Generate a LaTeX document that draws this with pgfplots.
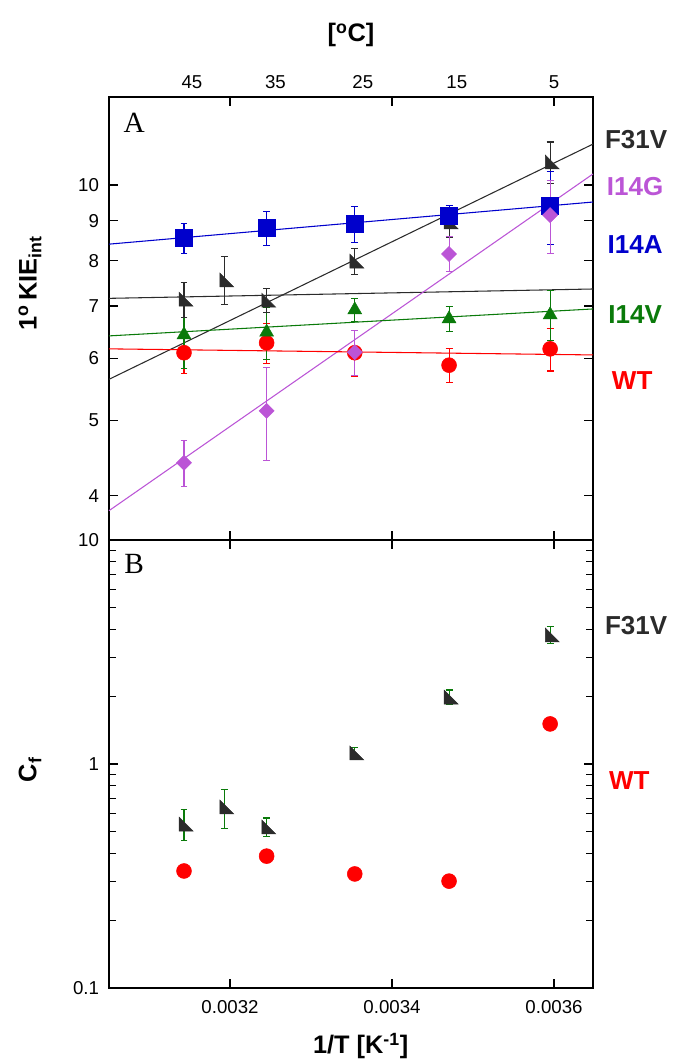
\documentclass[border=0pt]{standalone}
\usepackage{fontspec}
\setmainfont{Liberation Sans}
\newfontfamily\serifA{Liberation Serif}
\usepackage{pgfplots}
\pgfplotsset{compat=1.18}

\definecolor{cF}{HTML}{2B2B2B}
\definecolor{cG}{HTML}{BB55D6}
\definecolor{cA}{HTML}{0000CC}
\definecolor{cV}{HTML}{0A7A0A}
\definecolor{cW}{HTML}{FF0000}

\pgfdeclareplotmark{ltri}{%
  \pgfpathmoveto{\pgfqpoint{-0.7\pgfplotmarksize}{\pgfplotmarksize}}%
  \pgfpathlineto{\pgfqpoint{-0.7\pgfplotmarksize}{-\pgfplotmarksize}}%
  \pgfpathlineto{\pgfqpoint{1.3\pgfplotmarksize}{-\pgfplotmarksize}}%
  \pgfpathclose\pgfusepathqfillstroke}

\begin{document}
\begin{tikzpicture}
%% ---------------- Panel A ----------------
\begin{axis}[scale only axis, width=363pt, height=332.25pt, at={(0,336pt)}, anchor=south west,
  xmin=0.0030506, xmax=0.0036481,
  ymode=log, clip=false,
  axis line style={line width=1.1pt},
  major tick length=7pt, minor tick length=5pt,
  tick style={line width=0.9pt, black},
  tick align=inside,
  ticklabel style={font=\fontsize{14}{16}\selectfont},
  yticklabel style={xshift=-4pt},
  xtick={0.0032,0.0034,0.0036}, scaled x ticks=false,
  label style={font=\bfseries\fontsize{19}{22}\selectfont},
  ymin=3.513, ymax=12.96,
  ytick={4,5,6,7,8,9,10}, yticklabels={4,5,6,7,8,9,10},
  xticklabels={,,},
  ylabel={1\textsuperscript{o}\,KIE\textsubscript{int}},
  ylabel style={at={(rel axis cs:-0.163,0.58)}, anchor=center},
]
% fit lines
\addplot[no marks, line width=0.8pt, color=cF] coordinates {(0.0030506,5.64) (0.0036481,11.28)};
\addplot[no marks, line width=0.8pt, color=cF] coordinates {(0.0030506,7.16) (0.0036481,7.36)};
\addplot[no marks, line width=0.8pt, color=cG] coordinates {(0.0030506,3.83) (0.0036481,10.33)};
\addplot[no marks, line width=0.8pt, color=cA] coordinates {(0.0030506,8.40) (0.0036481,9.51)};
\addplot[no marks, line width=0.8pt, color=cV] coordinates {(0.0030506,6.41) (0.0036481,6.94)};
\addplot[no marks, line width=0.8pt, color=cW] coordinates {(0.0030506,6.17) (0.0036481,6.06)};
% WT
\addplot[only marks, mark=*, mark size=5.6pt, color=cW,
  error bars/.cd, y dir=both, y explicit, error mark=-,
  error mark options={rotate=90, mark size=2.6pt, line width=0.8pt, cW},
  error bar style={line width=0.8pt, cW}] coordinates {
 (0.0031432,6.10) +- (0,0.37)
 (0.0032452,6.28) +- (0,0.37)
 (0.0033540,6.10) +- (0,0.42)
 (0.0034704,5.88) +- (0,0.29)
 (0.0035952,6.17) +- (0,0.39)};
% I14V
\addplot[only marks, mark=triangle*, mark size=6pt, color=cV,
  error bars/.cd, y dir=both, y explicit, error mark=-,
  error mark options={rotate=90, mark size=2.6pt, line width=0.8pt, cV},
  error bar style={line width=0.8pt, cV}] coordinates {
 (0.0031432,6.43) +- (0,0.60)
 (0.0032452,6.48) +- (0,0.50)
 (0.0033540,6.92) +- (0,0.23)
 (0.0034704,6.74) +- (0,0.25)
 (0.0035952,6.82) +- (0,0.50)};
% F31V
\addplot[only marks, mark=ltri, mark size=5.2pt, color=cF,
  error bars/.cd, y dir=both, y explicit, error mark=-,
  error mark options={rotate=90, mark size=2.6pt, line width=0.8pt, cF},
  error bar style={line width=0.8pt, cF}] coordinates {
 (0.0031432,7.14) +- (0,0.37)
 (0.0031934,7.56) +- (0,0.53)
 (0.0032452,7.12) +- (0,0.25)
 (0.0033540,7.99) +- (0,0.30)
 (0.0034704,8.97) +- (0,0.40)
 (0.0035952,10.70) +- (0,0.65)};
% I14A
\addplot[only marks, mark=square*, mark size=6.3pt, color=cA,
  error bars/.cd, y dir=both, y explicit, error mark=-,
  error mark options={rotate=90, mark size=2.6pt, line width=0.8pt, cA},
  error bar style={line width=0.8pt, cA}] coordinates {
 (0.0031432,8.55) +- (0,0.38)
 (0.0032452,8.81) +- (0,0.45)
 (0.0033540,8.91) +- (0,0.48)
 (0.0034704,9.13) +- (0,0.27)
 (0.0035952,9.40) +- (0,1.00)};
% I14G
\addplot[only marks, mark=square*, mark size=4pt, mark options={rotate=45}, color=cG,
  error bars/.cd, y dir=both, y explicit, error mark=-,
  error mark options={rotate=90, mark size=2.6pt, line width=0.8pt, cG},
  error bar style={line width=0.8pt, cG}] coordinates {
 (0.0031432,4.41) +- (0,0.30)
 (0.0032452,5.14) +- (0,0.70)
 (0.0033540,6.11) +- (0,0.40)
 (0.0034704,8.16) +- (0,0.42)
 (0.0035952,9.15) +- (0,0.98)};
\node[font={\serifA\fontsize{22}{24}\selectfont}] at (rel axis cs:0.052,0.941) {A};
\node[text=cF, font=\bfseries\fontsize{19.5}{22}\selectfont] at (rel axis cs:1.089,0.903) {F31V};
\node[text=cG, font=\bfseries\fontsize{19.5}{22}\selectfont] at (rel axis cs:1.087,0.797) {I14G};
\node[text=cA, font=\bfseries\fontsize{19.5}{22}\selectfont] at (rel axis cs:1.087,0.666) {I14A};
\node[text=cV, font=\bfseries\fontsize{19.5}{22}\selectfont] at (rel axis cs:1.087,0.508) {I14V};
\node[text=cW, font=\bfseries\fontsize{19.5}{22}\selectfont] at (rel axis cs:1.081,0.361) {WT};
\end{axis}
%% top Celsius axis
\begin{axis}[scale only axis, width=363pt, height=332.25pt, at={(0,336pt)}, anchor=south west,
  xmin=0.0030506, xmax=0.0036481, ymin=0, ymax=1,
  axis x line*=top, hide y axis, scaled x ticks=false,
  axis line style={line width=1.1pt},
  xtick={0.003153,0.003256,0.003364,0.00348,0.0036},
  xticklabels={45,35,25,15,5},
  major tick length=0pt,
  ticklabel style={font=\fontsize{14}{16}\selectfont, yshift=3pt},
  xlabel={[\textsuperscript{o}C]},
  label style={font=\bfseries\fontsize{19}{22}\selectfont},
  xlabel style={at={(rel axis cs:0.5,1.14)}, anchor=center},
]
\end{axis}
%% ---------------- Panel B ----------------
\begin{axis}[scale only axis, width=363pt, height=336pt, at={(0,0)}, anchor=south west,
  xmin=0.0030506, xmax=0.0036481,
  ymode=log, clip=false,
  axis line style={line width=1.1pt},
  major tick length=7pt, minor tick length=5pt,
  tick style={line width=0.9pt, black},
  tick align=inside,
  ticklabel style={font=\fontsize{14}{16}\selectfont},
  yticklabel style={xshift=-4pt},
  xticklabel style={yshift=-6pt},
  xtick={0.0032,0.0034,0.0036}, scaled x ticks=false,
  label style={font=\bfseries\fontsize{19}{22}\selectfont},
  ymin=0.1, ymax=10,
  ytick={0.1,1,10}, yticklabels={0.1,1,10},
  minor ytick={0.2,0.3,0.4,0.5,0.6,0.7,0.8,0.9,2,3,4,5,6,7,8,9},
  xticklabels={0.0032,0.0034,0.0036},
  ylabel={C\textsubscript{f}},
  ylabel style={at={(rel axis cs:-0.163,0.487)}, anchor=center},
  xlabel={1/T [K\textsuperscript{-1}]},
  xlabel style={at={(rel axis cs:0.52,-0.13)}, anchor=center},
]
\addplot[only marks, mark=ltri, mark size=5.2pt, color=cF,
  error bars/.cd, y dir=both, y explicit, error mark=-,
  error mark options={rotate=90, mark size=2.6pt, line width=0.8pt, cV},
  error bar style={line width=0.8pt, cV}] coordinates {
 (0.0031432,0.539) +- (0,0.085)
 (0.0031934,0.643) +- (0,0.13)
 (0.0032452,0.524) +- (0,0.05)
 (0.0033540,1.12) +- (0,0.07)
 (0.0034704,1.99) +- (0,0.15)
 (0.0035952,3.77) +- (0,0.33)};
\addplot[only marks, mark=*, mark size=5.6pt, color=cW] coordinates {
 (0.0031432,0.333)
 (0.0032452,0.388)
 (0.0033540,0.323)
 (0.0034704,0.300)
 (0.0035952,1.51)};
\node[font={\serifA\fontsize{22}{24}\selectfont}] at (rel axis cs:0.052,0.946) {B};
\node[text=cF, font=\bfseries\fontsize{19.5}{22}\selectfont] at (rel axis cs:1.089,0.81) {F31V};
\node[text=cW, font=\bfseries\fontsize{19.5}{22}\selectfont] at (rel axis cs:1.075,0.464) {WT};
\end{axis}
\pgfresetboundingbox
\path (-81.75pt,-57pt) rectangle (426.75pt,741pt);
\end{tikzpicture}
\end{document}
